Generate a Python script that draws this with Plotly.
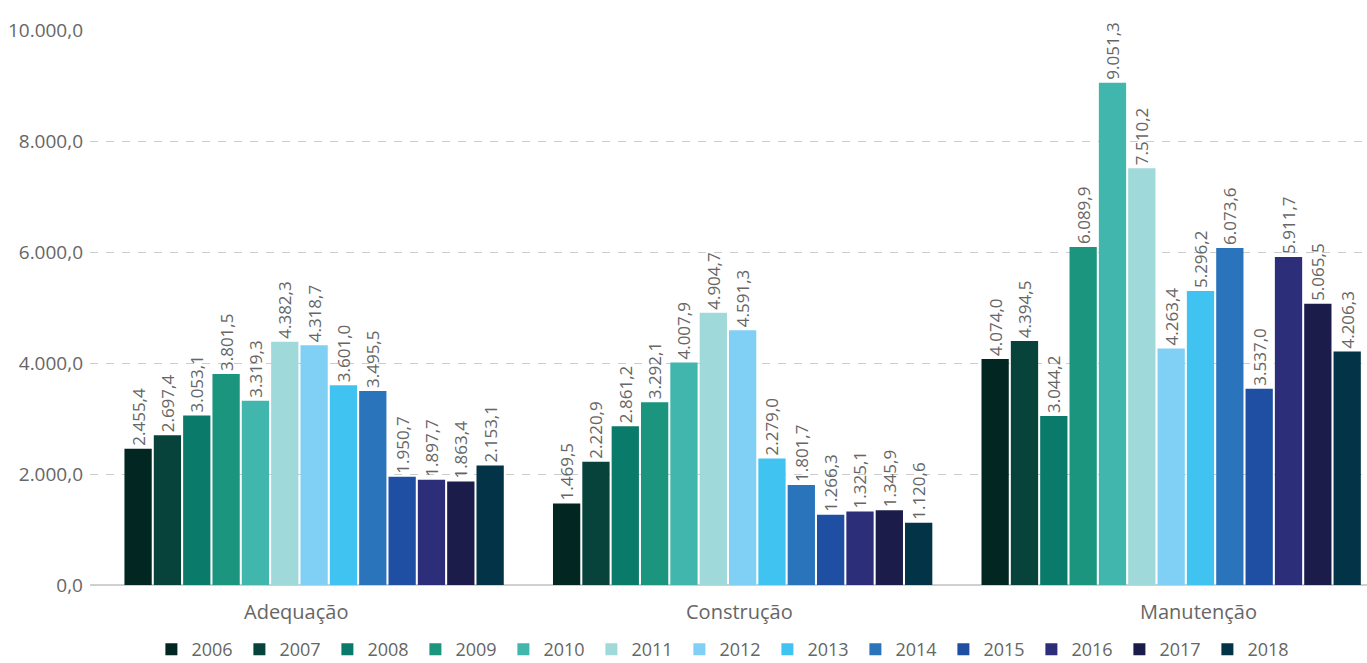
import plotly.graph_objects as go

categories = ["Adequação", "Construção", "Manutenção"]
years = ["2006", "2007", "2008", "2009", "2010", "2011", "2012",
         "2013", "2014", "2015", "2016", "2017", "2018"]

# values per year: [Adequação, Construção, Manutenção]
values = {
    "2006": [2455.4, 1469.5, 4074.0],
    "2007": [2697.4, 2220.9, 4394.5],
    "2008": [3053.1, 2861.2, 3044.2],
    "2009": [3801.5, 3292.1, 6089.9],
    "2010": [3319.3, 4007.9, 9051.3],
    "2011": [4382.3, 4904.7, 7510.2],
    "2012": [4318.7, 4591.3, 4263.4],
    "2013": [3601.0, 2279.0, 5296.2],
    "2014": [3495.5, 1801.7, 6073.6],
    "2015": [1950.7, 1266.3, 3537.0],
    "2016": [1897.7, 1325.1, 5911.7],
    "2017": [1863.4, 1345.9, 5065.5],
    "2018": [2153.1, 1120.6, 4206.3],
}

colors = ["#022622", "#07433A", "#0A7A6A", "#1C957F", "#40B6AC", "#A0D9DA",
          "#80D0F5", "#40C3F0", "#2A74BC", "#1E4FA3", "#2C2E7A", "#1C1C4A",
          "#023347"]

FONT = "Open Sans"
GREY = "#666666"

fig = go.Figure()
for year, color in zip(years, colors):
    fig.add_trace(go.Bar(
        name=year,
        x=categories,
        y=values[year],
        marker=dict(color=color, line=dict(width=0)),
        texttemplate="%{y:,.1f}",
        textposition="outside",
        textangle=-90,
        constraintext="none",
        cliponaxis=False,
        textfont=dict(family=FONT, size=17, color=GREY),
        hoverinfo="skip",
    ))

# category labels under each group
label_pos = [0.161, 0.509, 0.868]
for cat, xp in zip(categories, label_pos):
    fig.add_annotation(
        text=cat, x=xp, y=-0.048, xref="paper", yref="paper",
        showarrow=False, xanchor="center", yanchor="middle",
        font=dict(family=FONT, size=20, color=GREY),
    )

fig.update_layout(
    width=1367, height=663,
    margin=dict(l=90, r=0, t=30, b=78, autoexpand=False),
    paper_bgcolor="white", plot_bgcolor="white",
    separators=",.",
    barmode="group",
    bargap=0.11,
    bargroupgap=0.07,
    font=dict(family=FONT, color=GREY),
    showlegend=True,
    legend=dict(
        orientation="h", x=0.496, xanchor="center", y=-0.083, yanchor="top",
        font=dict(family=FONT, size=18, color=GREY),
        entrywidth=43, itemwidth=30, traceorder="normal",
        tracegroupgap=0,
    ),
    xaxis=dict(
        range=[-0.523, 2.457],
        showticklabels=False, showgrid=False, ticks="",
        showline=False, zeroline=False,
    ),
    yaxis=dict(
        range=[0, 10000],
        tickvals=[0, 2000, 4000, 6000, 8000, 10000],
        tickformat=",.1f",
        tickfont=dict(family=FONT, size=19, color=GREY),
        ticklabelstandoff=6,
        showgrid=True, gridcolor="#CCCCCC", griddash="8px,8px", gridwidth=1,
        zeroline=True, zerolinecolor="#D0D0D0", zerolinewidth=2,
        showline=False, ticks="",
    ),
)

fig.write_html("out.html")
